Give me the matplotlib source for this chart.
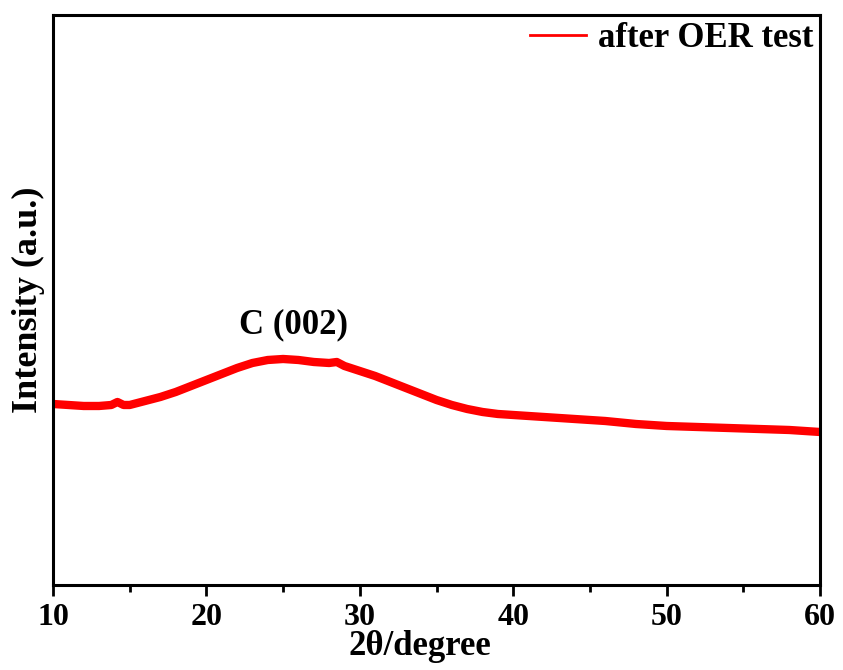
import matplotlib
matplotlib.use("Agg")
import matplotlib.pyplot as plt
from matplotlib.ticker import MultipleLocator

plt.rcParams["font.family"] = ["Liberation Serif", "DejaVu Serif"]
plt.rcParams["font.weight"] = "bold"

# XRD pattern after the OER test (arbitrary intensity units)
two_theta = [10, 11, 12, 13, 13.8, 14.2, 14.6, 15, 16, 17, 18, 19, 20, 21, 22,
             23, 24, 25, 26, 27, 28, 28.5, 29, 30, 31, 32, 33, 34, 35, 36, 37,
             38, 39, 40, 42, 44, 46, 48, 50, 52, 54, 56, 58, 60]
intensity = [181, 180, 179, 179, 180, 183, 180, 180, 184, 188, 193, 199, 205,
             211, 217, 222, 225, 226, 225, 223, 222, 223, 219, 214, 209, 203,
             197, 191, 185, 180, 176, 173, 171, 170, 168, 166, 164, 161, 159,
             158, 157, 156, 155, 153]

fig = plt.figure(figsize=(8.43, 6.7), dpi=100)
ax = fig.add_axes([0.0629, 0.1269, 0.9098, 0.8507])

ax.plot(two_theta, intensity, color="#ff0000", lw=6,
        solid_joinstyle="round", label="after OER test")

ax.set_xlim(10, 60)
ax.set_ylim(0, 570)
ax.xaxis.set_major_locator(MultipleLocator(10))
ax.xaxis.set_minor_locator(MultipleLocator(5))
ax.set_yticks([])
ax.tick_params(axis="x", which="major", direction="out", length=8, width=2,
               labelsize=23, pad=5)
ax.tick_params(axis="x", which="minor", direction="out", length=5, width=2)
for sp in ax.spines.values():
    sp.set_linewidth(2.2)

ax.set_xlabel("2θ/degree", fontsize=25, fontweight="bold")
ax.xaxis.set_label_coords(0.478, -0.079, transform=ax.transAxes)
ax.xaxis.label.set_va("top")
ax.set_ylabel("Intensity (a.u.)", fontsize=26, fontweight="bold", labelpad=6)

ax.text(25.7, 244, "C (002)", fontsize=25, fontweight="bold",
        ha="center", va="bottom")

leg = ax.legend(loc="upper right", frameon=False, fontsize=25,
                handlelength=1.6, handletextpad=0.35,
                borderaxespad=0.05, borderpad=0.15)
for line in leg.get_lines():
    line.set_linewidth(2)

fig.savefig("out.png", dpi=100)
